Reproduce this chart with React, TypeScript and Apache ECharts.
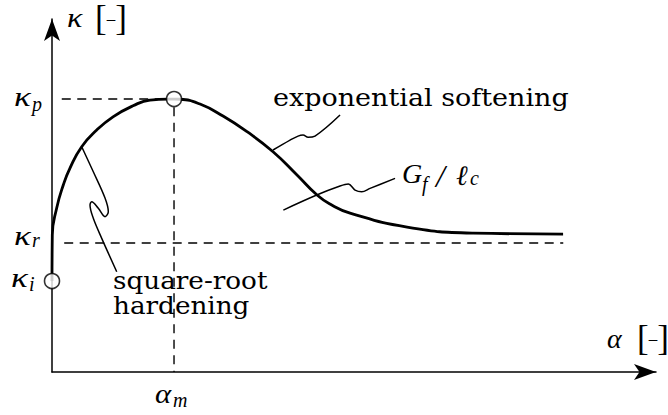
import React, { useEffect, useRef } from "react";
import * as echarts from "echarts";

// Characteristic points of the hardening / softening law
const kappaI = 1.0;
const kappaR = 1.418;
const kappaP = 3.0;
const alphaM = 2.0;

// Square-root hardening branch followed by exponential softening
const curveAlpha = [
  0, 0.005, 0.077, 0.185, 0.295, 0.487, 0.733, 1.0, 1.328, 1.607, 1.902, 2.0,
  2.098, 2.426, 2.803, 3.197, 3.623, 4.016, 4.344, 4.557, 4.885, 5.82, 6.902, 8.377,
];
const curveKappa = [
  1.0, 1.505, 1.802, 2.055, 2.242, 2.476, 2.659, 2.805, 2.926, 2.989, 3.0, 3.0,
  2.998, 2.945, 2.813, 2.641, 2.421, 2.165, 1.945, 1.846, 1.747, 1.593, 1.527, 1.516,
];

// Leader strokes tying the annotations to the curve
const expLeaderAlpha = [3.623, 3.902, 4.033, 4.115, 4.197, 4.311, 4.721];
const expLeaderKappa = [2.44, 2.549, 2.593, 2.604, 2.579, 2.593, 2.824];
const gfLeaderAlpha = [3.792, 4.339, 4.721, 4.857, 4.967, 5.077, 5.213, 5.623];
const gfLeaderKappa = [1.78, 1.945, 2.044, 2.066, 2.0, 1.981, 2.018, 2.128];
const hardLeaderAlpha = [0.487, 0.677, 0.869, 0.923, 0.869, 0.759, 0.651, 0.623, 0.677, 0.815, 1.061];
const hardLeaderKappa = [2.476, 2.201, 1.912, 1.762, 1.707, 1.799, 1.871, 1.835, 1.689, 1.469, 1.102];

// Extents of the dashed reference lines
const peakDashAlpha = [0.16, 1.85];
const residualDashAlpha = [0.2, 8.38];
const alphaMDashKappa = [2.91, 0];

const alphaMax = 9.9;
const kappaMax = 3.88;

const zip = (xs: number[], ys: number[]) => xs.map((x, i) => [x, ys[i]]);

const TEXT_FONT = "DejaVu Serif";
const MATH_FONT = "Liberation Serif";

function txt(
  text: string,
  x: number,
  y: number,
  size: number,
  opts: { italic?: boolean; font?: string; align?: string; scaleX?: number } = {}
) {
  const align = opts.align || "left";
  return {
    type: "text",
    x,
    y,
    scaleX: opts.scaleX || 1,
    silent: true,
    style: {
      text,
      fontSize: size,
      fontFamily: opts.font || MATH_FONT,
      fontStyle: opts.italic ? "italic" : "normal",
      fill: "#000",
      align,
      textAlign: align,
      verticalAlign: "middle",
      textVerticalAlign: "middle",
    },
  };
}

const math = (t: string, x: number, y: number, scaleX = 1) =>
  txt(t, x, y, 28, { italic: true, scaleX });
const sub = (t: string, x: number, y: number) => txt(t, x, y, 20, { italic: true });
const prose = (t: string, x: number, y: number, scaleX = 1.05) =>
  txt(t, x, y, 25, { font: TEXT_FONT, scaleX });

// "[–]" unit marker, drawn as one rich text
function unit(x: number, y: number) {
  return {
    type: "text",
    x,
    y,
    silent: true,
    style: {
      text: "{b|[}{d|–}{b|]}",
      fill: "#000",
      align: "left",
      textAlign: "left",
      verticalAlign: "middle",
      textVerticalAlign: "middle",
      rich: {
        b: { fontSize: 35, fontFamily: MATH_FONT, verticalAlign: "middle", fill: "#000" },
        d: { fontSize: 17, fontFamily: MATH_FONT, verticalAlign: "middle", fill: "#000" },
      },
    },
  };
}

export default function App() {
  const ref = useRef<HTMLDivElement>(null);

  useEffect(() => {
    document.body.style.margin = "0";
    if (!ref.current) return;
    const chart = echarts.init(ref.current, undefined, { renderer: "svg" });

    const dash = { color: "#000", width: 1.4, type: [9, 6.5] as number[] };
    const thin = { color: "#000", width: 1.5 };

    chart.setOption({
      animation: false,
      backgroundColor: "#fff",
      grid: { left: 52, right: 12, top: 19, bottom: 43 },
      xAxis: {
        type: "value",
        min: 0,
        max: alphaMax,
        axisLine: {
          show: true,
          lineStyle: { color: "#000", width: 1.5 },
          symbol: ["none", "arrow"],
          symbolSize: [12, 22],
        },
        axisTick: { show: false },
        axisLabel: { show: false },
        splitLine: { show: false },
      },
      yAxis: {
        type: "value",
        min: 0,
        max: kappaMax,
        axisLine: {
          show: true,
          lineStyle: { color: "#000", width: 1.5 },
          symbol: ["none", "arrow"],
          symbolSize: [12, 22],
        },
        axisTick: { show: false },
        axisLabel: { show: false },
        splitLine: { show: false },
      },
      series: [
        {
          type: "line",
          data: zip(peakDashAlpha, [kappaP, kappaP]),
          showSymbol: false,
          lineStyle: dash,
          silent: true,
        },
        {
          type: "line",
          data: zip(residualDashAlpha, [kappaR, kappaR]),
          showSymbol: false,
          lineStyle: dash,
          silent: true,
        },
        {
          type: "line",
          data: zip([alphaM, alphaM], alphaMDashKappa),
          showSymbol: false,
          lineStyle: dash,
          silent: true,
        },
        {
          type: "line",
          data: zip(curveAlpha, curveKappa),
          showSymbol: false,
          smooth: 0.5,
          lineStyle: { color: "#000", width: 2.8 },
          silent: true,
          z: 3,
        },
        {
          type: "line",
          data: zip(expLeaderAlpha, expLeaderKappa),
          showSymbol: false,
          smooth: 0.35,
          lineStyle: thin,
          silent: true,
        },
        {
          type: "line",
          data: zip(gfLeaderAlpha, gfLeaderKappa),
          showSymbol: false,
          smooth: 0.35,
          lineStyle: thin,
          silent: true,
        },
        {
          type: "line",
          data: zip(hardLeaderAlpha, hardLeaderKappa),
          showSymbol: false,
          smooth: 0.35,
          lineStyle: thin,
          silent: true,
        },
        {
          type: "scatter",
          data: [
            [0, kappaI],
            [alphaM, kappaP],
          ],
          symbol: "circle",
          symbolSize: 15,
          itemStyle: { color: "#fff", borderColor: "#000", borderWidth: 1.6 },
          silent: true,
          z: 5,
        },
      ],
    });

    const px = (a: number, k: number) =>
      chart.convertToPixel({ gridIndex: 0 }, [a, k]) as number[];

    const yP = px(0, kappaP)[1];
    const yR = px(0, kappaR)[1];
    const yI = px(0, kappaI)[1];
    const xM = px(alphaM, 0)[0];
    const xAxisY = px(0, 0)[1];

    const graphic: any[] = [
      // axis titles
      math("κ", 67, 18, 1.15),
      unit(95, 18.5),
      math("α", 607, xAxisY - 34),
      unit(637, xAxisY - 34),
      // characteristic values
      math("κ", 14, yP - 2, 1.25),
      sub("p", 32, yP + 5),
      math("κ", 14, yR - 7, 1.25),
      sub("r", 32, yR - 3),
      math("κ", 11, yI - 3, 1.25),
      sub("i", 29, yI + 3),
      math("α", xM - 19, xAxisY + 21.5, 1.1),
      sub("m", xM - 1, xAxisY + 28),
      // annotations
      prose("exponential softening", 273, 97, 1.08),
      prose("square-root", 113, 280),
      prose("hardening", 113, 305),
      math("G", 402, 173.5),
      sub("f", 422, 184),
      txt("/", 436, 176, 32, { italic: true }),
      math("ℓ", 456, 175.5),
      sub("c", 470, 178),
    ];

    chart.setOption({ graphic });

    return () => chart.dispose();
  }, []);

  return <div ref={ref} style={{ width: 668, height: 415 }} />;
}
